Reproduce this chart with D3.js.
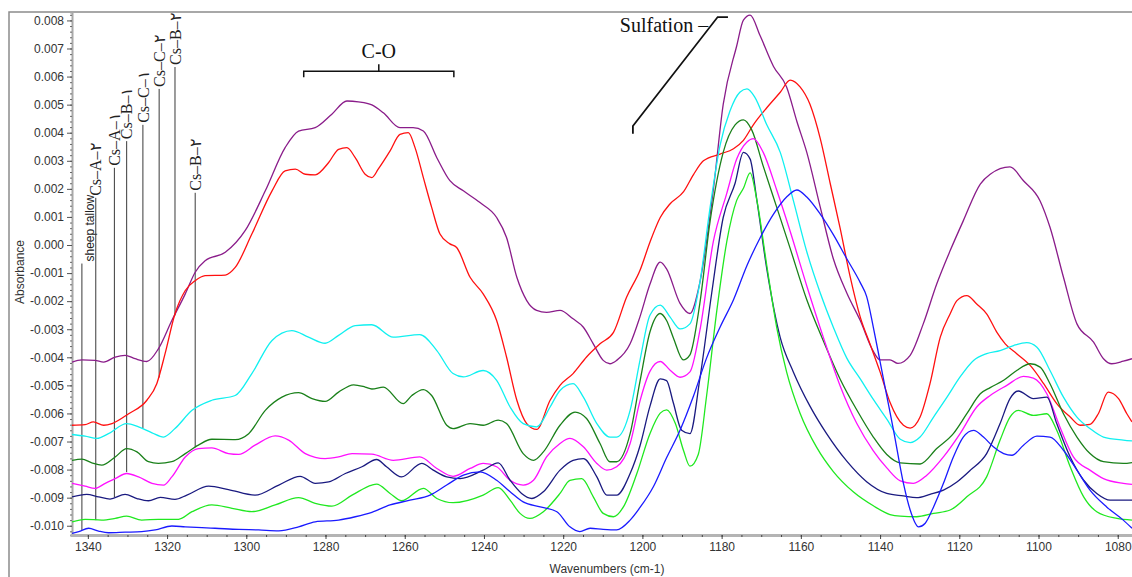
<!DOCTYPE html>
<html>
<head>
<meta charset="utf-8">
<script src="https://cdn.jsdelivr.net/npm/d3@7"></script>
<style>
  body { margin: 0; background: #fff; }
  svg { display: block; }
</style>
</head>
<body>
<script>
var width = 1132;
var height = 577;

// spectra: [wavenumber, absorbance]
var purple = [[1344.0,-0.00417],[1341.5,-0.00409],[1338.2,-0.00411],[1336.0,-0.00417],[1333.1,-0.00399],[1330.6,-0.00393],[1328.1,-0.00405],[1325.1,-0.00415],[1322.2,-0.00370],[1318.8,-0.00269],[1315.4,-0.00174],[1312.9,-0.00097],[1310.4,-0.00056],[1305.3,-0.00026],[1300.3,0.00051],[1295.2,0.00193],[1290.2,0.00347],[1286.8,0.00406],[1282.6,0.00418],[1278.4,0.00466],[1274.6,0.00513],[1271.7,0.00510],[1268.3,0.00499],[1265.4,0.00471],[1261.2,0.00418],[1257.9,0.00418],[1255.3,0.00406],[1251.9,0.00311],[1248.6,0.00229],[1245.2,0.00193],[1241.0,0.00151],[1236.8,0.00098],[1234.3,0.00027],[1231.7,-0.00115],[1229.2,-0.00198],[1226.7,-0.00233],[1224.2,-0.00240],[1220.8,-0.00233],[1217.5,-0.00263],[1214.9,-0.00293],[1212.4,-0.00352],[1209.9,-0.00411],[1208.2,-0.00423],[1206.5,-0.00411],[1203.1,-0.00352],[1200.6,-0.00255],[1198.1,-0.00140],[1195.5,-0.00061],[1193.9,-0.00085],[1190.5,-0.00208],[1188.0,-0.00244],[1185.5,-0.00134],[1182.1,0.00196],[1179.6,0.00501],[1176.2,0.00709],[1174.5,0.00801],[1172.8,0.00819],[1170.3,0.00746],[1166.9,0.00636],[1163.6,0.00563],[1161.0,0.00440],[1158.5,0.00330],[1155.1,0.00135],[1151.8,-0.00049],[1148.4,-0.00171],[1145.0,-0.00269],[1141.7,-0.00379],[1140.0,-0.00409],[1137.5,-0.00409],[1135.5,-0.00422],[1132.4,-0.00393],[1129.1,-0.00281],[1125.7,-0.00139],[1122.3,-0.00020],[1119.0,0.00086],[1114.7,0.00217],[1112.2,0.00252],[1107.2,0.00278],[1103.8,0.00229],[1099.6,0.00157],[1097.1,0.00063],[1093.7,-0.00115],[1090.3,-0.00281],[1086.1,-0.00346],[1083.6,-0.00405],[1081.5,-0.00423],[1078.6,-0.00414],[1076.4,-0.00405]];

var red = [[1344.0,-0.00642],[1340.7,-0.00640],[1338.6,-0.00630],[1336.0,-0.00642],[1333.9,-0.00636],[1329.7,-0.00601],[1325.1,-0.00553],[1322.6,-0.00494],[1320.5,-0.00387],[1318.0,-0.00245],[1315.4,-0.00162],[1312.9,-0.00127],[1310.4,-0.00109],[1305.3,-0.00107],[1302.8,-0.00080],[1298.6,0.00039],[1293.5,0.00193],[1290.2,0.00264],[1287.6,0.00270],[1285.1,0.00252],[1282.6,0.00250],[1279.2,0.00294],[1276.7,0.00341],[1274.6,0.00347],[1272.5,0.00311],[1270.0,0.00252],[1268.3,0.00240],[1266.7,0.00270],[1263.7,0.00335],[1261.2,0.00394],[1259.1,0.00400],[1257.4,0.00347],[1255.3,0.00240],[1253.2,0.00134],[1251.1,0.00039],[1248.6,0.00004],[1246.9,-0.00009],[1243.5,-0.00115],[1240.2,-0.00174],[1236.8,-0.00269],[1234.3,-0.00399],[1231.7,-0.00553],[1229.2,-0.00636],[1226.7,-0.00657],[1223.3,-0.00553],[1220.8,-0.00500],[1217.5,-0.00458],[1214.1,-0.00399],[1210.7,-0.00352],[1207.3,-0.00311],[1204.0,-0.00186],[1200.6,-0.00090],[1198.1,0.00010],[1195.5,0.00098],[1193.0,0.00147],[1189.6,0.00190],[1187.1,0.00251],[1184.6,0.00300],[1180.4,0.00324],[1177.0,0.00343],[1174.5,0.00373],[1172.0,0.00428],[1168.6,0.00489],[1165.2,0.00544],[1162.7,0.00587],[1160.2,0.00563],[1157.7,0.00501],[1155.1,0.00379],[1152.6,0.00220],[1150.1,0.00061],[1147.6,-0.00110],[1145.0,-0.00257],[1142.5,-0.00354],[1140.0,-0.00452],[1137.5,-0.00560],[1134.1,-0.00642],[1132.4,-0.00652],[1129.9,-0.00613],[1127.4,-0.00494],[1124.8,-0.00328],[1122.3,-0.00245],[1120.6,-0.00198],[1118.1,-0.00180],[1115.6,-0.00210],[1113.1,-0.00245],[1110.5,-0.00311],[1108.4,-0.00352],[1105.5,-0.00387],[1102.1,-0.00429],[1098.7,-0.00494],[1095.4,-0.00565],[1092.0,-0.00613],[1089.5,-0.00642],[1087.0,-0.00639],[1084.9,-0.00601],[1082.4,-0.00524],[1079.8,-0.00547],[1077.7,-0.00601],[1076.4,-0.00630]];

var cyan = [[1344.0,-0.00675],[1340.7,-0.00681],[1337.7,-0.00689],[1334.8,-0.00672],[1330.2,-0.00636],[1327.2,-0.00648],[1323.8,-0.00669],[1320.9,-0.00684],[1318.0,-0.00654],[1313.7,-0.00589],[1308.7,-0.00553],[1302.8,-0.00536],[1298.6,-0.00458],[1293.5,-0.00340],[1288.5,-0.00305],[1284.3,-0.00328],[1280.1,-0.00350],[1276.7,-0.00322],[1272.5,-0.00287],[1268.3,-0.00284],[1262.9,-0.00328],[1256.2,-0.00319],[1251.9,-0.00376],[1247.8,-0.00458],[1245.2,-0.00470],[1240.2,-0.00447],[1236.8,-0.00482],[1233.4,-0.00577],[1230.1,-0.00636],[1226.7,-0.00648],[1223.3,-0.00577],[1220.8,-0.00518],[1217.5,-0.00494],[1214.9,-0.00542],[1211.5,-0.00636],[1208.2,-0.00684],[1206.5,-0.00684],[1203.1,-0.00589],[1200.6,-0.00410],[1198.1,-0.00250],[1195.5,-0.00214],[1193.0,-0.00257],[1190.5,-0.00299],[1188.0,-0.00281],[1185.5,-0.00134],[1182.9,0.00135],[1180.4,0.00355],[1177.9,0.00477],[1175.4,0.00544],[1173.6,0.00556],[1171.6,0.00526],[1168.6,0.00428],[1165.2,0.00330],[1161.9,0.00159],[1158.5,-0.00024],[1155.1,-0.00171],[1151.8,-0.00293],[1148.4,-0.00403],[1145.0,-0.00477],[1141.7,-0.00550],[1138.3,-0.00620],[1134.9,-0.00692],[1132.4,-0.00704],[1129.9,-0.00684],[1126.5,-0.00613],[1123.1,-0.00542],[1119.8,-0.00470],[1116.4,-0.00411],[1113.1,-0.00387],[1109.7,-0.00376],[1106.3,-0.00358],[1103.0,-0.00348],[1100.4,-0.00364],[1097.1,-0.00447],[1093.7,-0.00542],[1090.3,-0.00613],[1087.0,-0.00654],[1083.6,-0.00684],[1078.6,-0.00695],[1076.4,-0.00698]];

var green = [[1344.0,-0.00767],[1341.5,-0.00763],[1339.0,-0.00776],[1336.5,-0.00784],[1333.1,-0.00755],[1330.2,-0.00725],[1327.6,-0.00737],[1324.7,-0.00772],[1322.2,-0.00778],[1318.8,-0.00772],[1315.4,-0.00743],[1312.1,-0.00713],[1308.7,-0.00692],[1302.8,-0.00693],[1299.4,-0.00672],[1295.2,-0.00589],[1291.0,-0.00542],[1286.8,-0.00526],[1283.4,-0.00547],[1280.1,-0.00557],[1276.7,-0.00524],[1272.9,-0.00498],[1270.0,-0.00506],[1268.3,-0.00513],[1265.4,-0.00506],[1260.4,-0.00565],[1258.2,-0.00536],[1255.3,-0.00515],[1253.2,-0.00536],[1249.4,-0.00642],[1247.8,-0.00654],[1243.5,-0.00636],[1240.2,-0.00642],[1236.4,-0.00624],[1234.3,-0.00636],[1230.1,-0.00743],[1227.5,-0.00767],[1225.0,-0.00737],[1220.8,-0.00642],[1217.0,-0.00595],[1214.1,-0.00618],[1210.7,-0.00707],[1208.2,-0.00772],[1206.5,-0.00772],[1203.1,-0.00672],[1200.6,-0.00485],[1198.1,-0.00310],[1195.5,-0.00244],[1193.9,-0.00269],[1192.2,-0.00330],[1189.7,-0.00409],[1188.0,-0.00391],[1185.5,-0.00208],[1182.9,0.00086],[1179.6,0.00330],[1176.6,0.00428],[1174.5,0.00446],[1172.4,0.00410],[1169.5,0.00281],[1166.1,0.00135],[1162.7,-0.00012],[1158.5,-0.00195],[1154.3,-0.00342],[1150.1,-0.00477],[1145.9,-0.00587],[1141.7,-0.00684],[1138.3,-0.00746],[1134.9,-0.00776],[1129.9,-0.00780],[1125.7,-0.00725],[1121.5,-0.00672],[1118.1,-0.00601],[1114.7,-0.00530],[1112.2,-0.00508],[1108.8,-0.00482],[1105.5,-0.00447],[1102.1,-0.00423],[1099.6,-0.00435],[1097.1,-0.00494],[1093.7,-0.00601],[1090.3,-0.00684],[1087.0,-0.00743],[1083.6,-0.00772],[1078.6,-0.00778],[1076.4,-0.00775]];

var magenta = [[1344.0,-0.00849],[1340.7,-0.00859],[1338.2,-0.00867],[1335.6,-0.00849],[1333.1,-0.00832],[1330.2,-0.00814],[1327.2,-0.00826],[1323.8,-0.00849],[1320.9,-0.00855],[1318.8,-0.00826],[1315.4,-0.00755],[1312.1,-0.00725],[1308.7,-0.00723],[1304.5,-0.00743],[1301.9,-0.00746],[1297.8,-0.00713],[1292.7,-0.00680],[1289.3,-0.00695],[1285.1,-0.00743],[1280.1,-0.00761],[1276.7,-0.00755],[1273.3,-0.00743],[1268.3,-0.00745],[1262.9,-0.00767],[1256.2,-0.00755],[1251.9,-0.00796],[1247.8,-0.00824],[1243.5,-0.00796],[1240.2,-0.00778],[1236.8,-0.00790],[1233.4,-0.00838],[1230.1,-0.00855],[1227.5,-0.00838],[1224.2,-0.00755],[1220.8,-0.00707],[1218.3,-0.00689],[1214.9,-0.00719],[1211.5,-0.00778],[1209.0,-0.00802],[1206.5,-0.00790],[1203.1,-0.00707],[1200.6,-0.00555],[1198.1,-0.00450],[1195.5,-0.00415],[1193.0,-0.00446],[1190.5,-0.00471],[1188.0,-0.00452],[1185.5,-0.00305],[1182.1,0.00012],[1178.7,0.00184],[1176.2,0.00306],[1173.6,0.00367],[1172.0,0.00379],[1169.5,0.00330],[1166.1,0.00196],[1162.7,0.00049],[1158.5,-0.00146],[1154.3,-0.00330],[1150.1,-0.00501],[1145.9,-0.00635],[1141.7,-0.00733],[1138.3,-0.00794],[1134.9,-0.00840],[1131.6,-0.00849],[1128.2,-0.00820],[1124.0,-0.00755],[1119.8,-0.00672],[1115.6,-0.00577],[1112.2,-0.00536],[1108.0,-0.00500],[1103.8,-0.00468],[1101.3,-0.00474],[1097.9,-0.00530],[1094.6,-0.00648],[1091.2,-0.00755],[1087.0,-0.00802],[1083.6,-0.00832],[1078.6,-0.00849],[1076.4,-0.00853]];

var navy = [[1344.0,-0.00897],[1340.3,-0.00888],[1337.3,-0.00897],[1334.4,-0.00905],[1330.6,-0.00888],[1327.6,-0.00903],[1324.7,-0.00911],[1321.7,-0.00899],[1318.0,-0.00906],[1315.0,-0.00891],[1309.5,-0.00859],[1304.5,-0.00871],[1297.8,-0.00891],[1291.8,-0.00855],[1286.4,-0.00824],[1282.6,-0.00849],[1279.2,-0.00844],[1275.0,-0.00814],[1270.8,-0.00790],[1267.1,-0.00764],[1264.6,-0.00790],[1260.8,-0.00826],[1255.7,-0.00778],[1252.8,-0.00802],[1249.4,-0.00826],[1246.0,-0.00832],[1240.2,-0.00802],[1236.4,-0.00776],[1233.4,-0.00838],[1230.5,-0.00885],[1227.9,-0.00903],[1225.0,-0.00879],[1220.8,-0.00802],[1217.5,-0.00767],[1214.9,-0.00761],[1211.5,-0.00826],[1209.0,-0.00891],[1206.5,-0.00891],[1203.1,-0.00814],[1200.6,-0.00715],[1198.1,-0.00575],[1195.5,-0.00477],[1193.9,-0.00483],[1192.2,-0.00562],[1190.1,-0.00660],[1188.0,-0.00672],[1185.5,-0.00477],[1182.5,-0.00171],[1179.6,0.00098],[1176.6,0.00220],[1174.5,0.00330],[1172.8,0.00306],[1171.1,0.00159],[1168.6,-0.00085],[1165.2,-0.00330],[1161.9,-0.00452],[1157.7,-0.00574],[1153.5,-0.00672],[1148.4,-0.00770],[1143.4,-0.00843],[1138.3,-0.00885],[1134.1,-0.00894],[1130.8,-0.00900],[1127.4,-0.00888],[1124.0,-0.00873],[1120.6,-0.00844],[1117.2,-0.00802],[1113.1,-0.00743],[1109.7,-0.00636],[1107.2,-0.00547],[1105.1,-0.00520],[1101.3,-0.00547],[1097.9,-0.00542],[1095.4,-0.00636],[1092.0,-0.00755],[1088.6,-0.00838],[1085.3,-0.00885],[1081.9,-0.00909],[1076.4,-0.00909]];

var lime = [[1344.0,-0.00986],[1340.7,-0.00977],[1336.5,-0.00980],[1333.1,-0.00974],[1330.2,-0.00966],[1326.4,-0.00980],[1322.2,-0.00977],[1317.1,-0.00977],[1313.7,-0.00950],[1308.7,-0.00926],[1303.6,-0.00938],[1298.6,-0.00950],[1292.7,-0.00926],[1286.8,-0.00900],[1282.6,-0.00920],[1278.4,-0.00930],[1273.3,-0.00891],[1268.3,-0.00855],[1267.1,-0.00852],[1263.7,-0.00885],[1260.8,-0.00911],[1255.3,-0.00867],[1251.9,-0.00903],[1247.8,-0.00918],[1240.2,-0.00891],[1236.4,-0.00864],[1233.4,-0.00909],[1230.9,-0.00956],[1228.4,-0.00974],[1225.0,-0.00950],[1220.8,-0.00885],[1218.3,-0.00838],[1215.3,-0.00832],[1212.4,-0.00897],[1209.9,-0.00956],[1207.3,-0.00968],[1204.8,-0.00933],[1201.4,-0.00814],[1198.1,-0.00672],[1195.5,-0.00599],[1193.9,-0.00587],[1191.7,-0.00635],[1189.6,-0.00733],[1188.0,-0.00788],[1185.9,-0.00746],[1183.8,-0.00538],[1181.2,-0.00232],[1178.7,0.00012],[1176.2,0.00159],[1174.5,0.00202],[1172.8,0.00257],[1171.1,0.00159],[1168.6,-0.00073],[1166.1,-0.00293],[1163.6,-0.00452],[1160.2,-0.00599],[1156.0,-0.00721],[1151.8,-0.00807],[1146.7,-0.00880],[1141.7,-0.00929],[1137.5,-0.00960],[1134.9,-0.00966],[1130.8,-0.00968],[1126.5,-0.00956],[1122.3,-0.00944],[1118.1,-0.00897],[1113.1,-0.00826],[1109.7,-0.00695],[1107.2,-0.00613],[1105.1,-0.00589],[1101.3,-0.00607],[1097.9,-0.00601],[1095.4,-0.00660],[1092.0,-0.00790],[1088.6,-0.00897],[1085.3,-0.00950],[1080.2,-0.00974],[1076.4,-0.00980]];

var blue = [[1344.0,-0.01027],[1342.3,-0.01021],[1339.8,-0.01009],[1337.3,-0.01019],[1334.8,-0.01025],[1330.6,-0.01023],[1326.4,-0.01021],[1323.0,-0.01015],[1318.8,-0.01001],[1315.4,-0.01004],[1311.2,-0.01007],[1307.9,-0.01009],[1301.9,-0.01013],[1296.9,-0.01015],[1291.8,-0.01018],[1286.8,-0.01004],[1282.6,-0.00986],[1276.7,-0.00980],[1272.5,-0.00968],[1268.3,-0.00952],[1263.7,-0.00926],[1258.7,-0.00909],[1253.6,-0.00891],[1249.4,-0.00855],[1245.2,-0.00820],[1241.0,-0.00808],[1236.8,-0.00838],[1233.4,-0.00879],[1230.1,-0.00915],[1225.8,-0.00933],[1221.6,-0.00950],[1218.3,-0.01004],[1215.8,-0.01021],[1213.2,-0.01009],[1209.9,-0.01013],[1206.5,-0.01015],[1203.1,-0.00980],[1200.6,-0.00935],[1197.2,-0.00860],[1193.9,-0.00758],[1190.5,-0.00660],[1187.1,-0.00538],[1183.8,-0.00403],[1180.4,-0.00293],[1177.0,-0.00195],[1173.6,-0.00073],[1170.3,0.00025],[1166.9,0.00110],[1163.6,0.00171],[1161.0,0.00196],[1158.5,0.00171],[1155.1,0.00110],[1151.8,0.00037],[1148.4,-0.00049],[1145.0,-0.00134],[1143.4,-0.00183],[1141.7,-0.00293],[1140.0,-0.00415],[1138.3,-0.00538],[1136.6,-0.00660],[1134.1,-0.00849],[1132.4,-0.00944],[1130.3,-0.01004],[1128.6,-0.00991],[1126.5,-0.00933],[1124.0,-0.00849],[1121.5,-0.00755],[1119.0,-0.00684],[1116.4,-0.00660],[1113.9,-0.00684],[1111.4,-0.00719],[1108.8,-0.00743],[1106.7,-0.00749],[1103.8,-0.00713],[1100.4,-0.00681],[1097.1,-0.00684],[1093.7,-0.00731],[1090.3,-0.00802],[1087.0,-0.00873],[1082.8,-0.00933],[1078.6,-0.00980],[1076.4,-0.01009]];

var seriesData = [purple, red, cyan, green, magenta, navy, lime, blue];
var seriesColors = ["#8a1c8a", "#ff1010", "#10f0f0", "#1a801a", "#ff10ff", "#1a1a80", "#20e820", "#1a1aff"];

// tick values
var yMajor = d3.range(-10, 9).map(d => d / 1000);
var yMinor = d3.range(-51, 42).map(d => d / 5000);
var xMajor = d3.range(1080, 1341, 20);
var xMinor = d3.range(1080, 1345, 5);

// peak labels (vertical markers)
var labelNames = ["sheep tallow", "Cs\u2013A\u2013\u06F2", "Cs\u2013A\u2013\u06F1", "Cs\u2013B\u2013\u06F1", "Cs\u2013C\u2013\u06F1", "Cs\u2013C\u2013\u06F2", "Cs\u2013B\u2013\u06F2", "Cs\u2013B\u2013\u06F2"];
var labelWn = [1341.5, 1338.0, 1333.3, 1330.2, 1326.1, 1322.0, 1318.0, 1312.9];
var labelTop = [-0.00066, 0.00168, 0.00275, 0.0037, 0.00428, 0.00556, 0.00634, 0.00186];
var labelBottom = [-0.01015, -0.0098, -0.00898, -0.00809, -0.00653, -0.00472, -0.00251, -0.0072];

// bracket / pointer annotations
var coBracket = [1285.5, 1247.6];
var coLevel = 0.00619;
var sulfPath = [[1202.4, 0.00396], [1202.4, 0.00424], [1181.0, 0.00812], [1178.4, 0.00812]];

var x = d3.scaleLinear().domain([1344, 1076.4]).range([72, 1132]);
var y = d3.scaleLinear().domain([-0.01033, 0.0083]).range([535, 12]);

var fmt = d3.formatLocale({decimal: ".", thousands: ",", grouping: [3], currency: ["", ""], minus: "-"}).format(".3f");

var serif = "'Liberation Serif', 'Times New Roman', serif";
var sans = "'Liberation Sans', Arial, sans-serif";

var svg = d3.select("body")
            .append("svg")
            .attr("width", width)
            .attr("height", height);

// outer frame
svg.append("path")
   .attr("d", "M9,577V12H1132")
   .attr("fill", "none")
   .attr("stroke", "#8c8c8c")
   .attr("stroke-width", 1.5);

// y axis
var yMinorAxis = svg.append("g")
   .attr("transform", "translate(72,0)")
   .call(d3.axisLeft(y).tickValues(yMinor).tickSize(2).tickFormat(""));
yMinorAxis.select(".domain").attr("stroke", "#a8a8a8").attr("stroke-width", 2);
yMinorAxis.selectAll("line").attr("stroke", "#666");

var yAxis = svg.append("g")
   .attr("transform", "translate(72,0)")
   .call(d3.axisLeft(y).tickValues(yMajor).tickSize(5).tickPadding(3).tickFormat(fmt));
yAxis.select(".domain").remove();
yAxis.selectAll("line").attr("stroke", "#555");
yAxis.selectAll("text").attr("font-family", sans).attr("font-size", 12).attr("fill", "#333");

// x axis
var xMinorAxis = svg.append("g")
   .attr("transform", "translate(0,535)")
   .call(d3.axisBottom(x).tickValues(xMinor).tickSize(2).tickFormat(""));
xMinorAxis.select(".domain").attr("stroke", "#b4b4b4").attr("stroke-width", 3);
xMinorAxis.selectAll("line").attr("stroke", "#444");

var xAxis = svg.append("g")
   .attr("transform", "translate(0,535)")
   .call(d3.axisBottom(x).tickValues(xMajor).tickSize(4).tickPadding(3).tickFormat(d3.format("d")));
xAxis.select(".domain").remove();
xAxis.selectAll("line").attr("stroke", "#444");
xAxis.selectAll("text").attr("font-family", sans).attr("font-size", 12).attr("fill", "#333");

// axis titles
svg.append("text")
   .attr("x", 607)
   .attr("y", 573)
   .attr("text-anchor", "middle")
   .attr("font-family", sans)
   .attr("font-size", 12)
   .attr("fill", "#333")
   .text("Wavenumbers (cm-1)");

svg.append("text")
   .attr("transform", "translate(24,272)rotate(-90)")
   .attr("text-anchor", "middle")
   .attr("font-family", sans)
   .attr("font-size", 12)
   .attr("fill", "#333")
   .text("Absorbance");

// marker lines
var markers = svg.append("g");
labelNames.forEach(function (name, i) {
  markers.append("line")
         .attr("x1", x(labelWn[i]))
         .attr("x2", x(labelWn[i]))
         .attr("y1", y(labelTop[i]))
         .attr("y2", y(labelBottom[i]))
         .attr("stroke", "#3a3a3a")
         .attr("stroke-width", 1);
  var isTallow = i == 0;
  markers.append("text")
         .attr("transform", "translate(" + (x(labelWn[i]) + (isTallow ? 8 : 0)) + "," + (y(labelTop[i]) - 2) + ")rotate(-90)")
         .attr("dy", "0.35em")
         .attr("font-family", isTallow ? sans : serif)
         .attr("font-size", isTallow ? 12 : 16)
         .attr("fill", "#222")
         .text(name);
});

// spectra
var clip = svg.append("clipPath").attr("id", "plotclip")
              .append("rect").attr("x", 72).attr("y", 12).attr("width", 1060).attr("height", 523);

var line = d3.line()
             .x(d => x(d[0]))
             .y(d => y(d[1]))
             .curve(d3.curveMonotoneX);

svg.append("g")
   .attr("clip-path", "url(#plotclip)")
   .selectAll("path")
   .data(seriesData)
   .enter()
   .append("path")
   .attr("fill", "none")
   .attr("stroke", (d, i) => seriesColors[i])
   .attr("stroke-width", 1.3)
   .attr("d", line);

// C-O bracket
var coY = y(coLevel);
svg.append("path")
   .attr("d", "M" + x(coBracket[0]) + "," + (coY + 6) + "V" + coY + "H" + x(coBracket[1]) + "V" + (coY + 6) +
              "M" + x((coBracket[0] + coBracket[1]) / 2) + "," + coY + "V" + (coY - 7))
   .attr("fill", "none")
   .attr("stroke", "#111")
   .attr("stroke-width", 1.5);

svg.append("text")
   .attr("x", x((coBracket[0] + coBracket[1]) / 2))
   .attr("y", coY - 13)
   .attr("text-anchor", "middle")
   .attr("font-family", serif)
   .attr("font-size", 20)
   .attr("fill", "#111")
   .text("C-O");

// Sulfation pointer
svg.append("path")
   .attr("d", d3.line().x(d => x(d[0])).y(d => y(d[1]))(sulfPath))
   .attr("fill", "none")
   .attr("stroke", "#111")
   .attr("stroke-width", 1.8);

svg.append("text")
   .attr("x", x(1183.4))
   .attr("y", 32)
   .attr("text-anchor", "end")
   .attr("font-family", serif)
   .attr("font-size", 20)
   .attr("fill", "#111")
   .text("Sulfation \u2013");
</script>
</body>
</html>
